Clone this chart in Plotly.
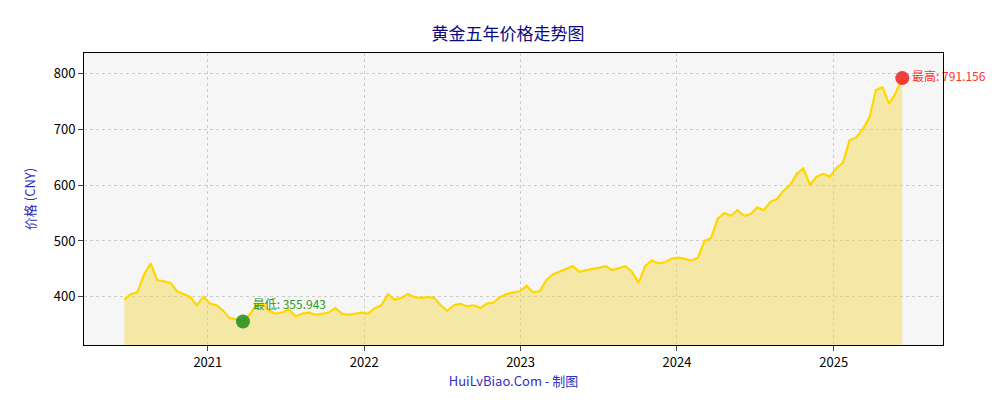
import pandas as pd
import plotly.graph_objects as go

values = [395,
 405, 408, 440, 460, 430, 428, 425, 410, 405, 400, 385,
 400, 388, 385, 375, 362, 360, 355.943, 368, 385, 388, 375, 370, 372, 378, 365, 370, 372, 368, 370, 372, 380, 370, 368, 370,
 372, 370, 380, 385, 405, 395, 398, 405, 400, 398, 400, 398, 385, 375, 385, 388, 383, 385, 380, 388, 390, 400, 405, 408,
 410, 420, 408, 410, 430, 440, 445, 450, 455, 445, 448, 450, 452, 455, 448, 452, 455, 445, 425, 455, 465, 460, 462, 468,
 470, 468, 465, 470, 500, 505, 540, 550, 545, 555, 545, 548, 560, 555, 570, 575, 590, 600, 620, 630, 600, 615, 620, 615,
 630, 640, 680, 685, 700, 720, 770, 775, 745, 765, 791.156]
dates = pd.date_range(start="2020-06-20", end="2025-06-10", periods=len(values))

imax = max(range(len(values)), key=lambda i: values[i])
imin = min(range(len(values)), key=lambda i: values[i])

fig = go.Figure()
fig.add_trace(go.Scatter(x=dates, y=values, mode="lines", fill="tozeroy",
                         fillcolor="rgba(245,215,70,0.45)",
                         line=dict(color="#FFD700", width=2.2), showlegend=False))
fig.add_trace(go.Scatter(x=[dates[imax]], y=[values[imax]], mode="markers+text", cliponaxis=False,
                         marker=dict(color="rgba(240,30,30,0.85)", size=14),
                         text=[f"最高: {values[imax]}"], textposition="middle right",
                         textfont=dict(color="#ff3030", size=12), showlegend=False))
fig.add_trace(go.Scatter(x=[dates[imin]], y=[values[imin]], mode="markers+text", cliponaxis=False,
                         marker=dict(color="rgba(30,140,30,0.85)", size=14),
                         text=[f"最低: {values[imin]}"], textposition="top right",
                         textfont=dict(color="#2a9a2a", size=12), showlegend=False))

fig.update_layout(
    width=1000, height=400, margin=dict(l=76, r=65, t=45, b=63),
    paper_bgcolor="white", plot_bgcolor="#f6f6f6",
    font=dict(family="Noto Sans CJK SC, DejaVu Sans", size=13, color="black"),
    title=dict(text="黄金五年价格走势图", x=0.5, y=0.95, xanchor="center",
               font=dict(size=17, color="#0a0a80")),
)
fig.update_xaxes(range=["2020-03-18", "2025-09-13"], showgrid=True, gridcolor="#cccccc", griddash="dot",
                 showline=True, linecolor="black", mirror=True, ticks="outside", dtick="M12",
                 tickformat="%Y", title=dict(text="HuiLvBiao.Com - 制图", standoff=6, font=dict(color="#3030c0", size=13)))
fig.update_yaxes(range=[314, 836], showgrid=True, gridcolor="#cccccc", griddash="dot",
                 showline=True, linecolor="black", mirror=True, ticks="outside",
                 tickvals=[400, 500, 600, 700, 800], zeroline=False,
                 title=dict(text="价格 (CNY)", font=dict(color="#3030c0", size=13)))
fig.write_html("out.html")
